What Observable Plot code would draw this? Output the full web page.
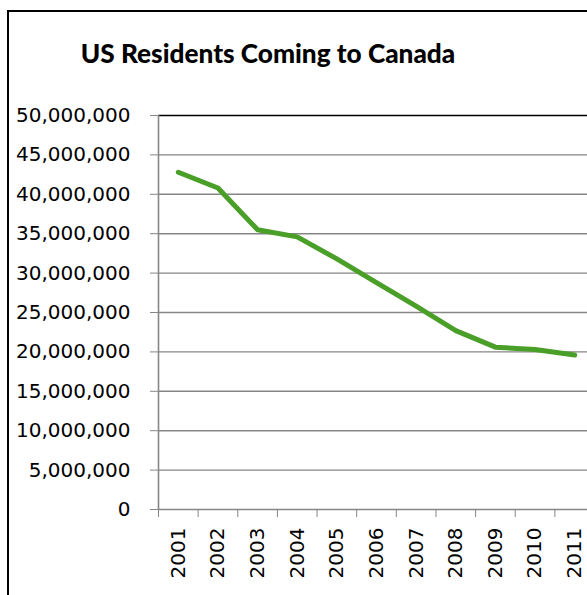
<!DOCTYPE html>
<html>
<head>
<meta charset="utf-8">
<script src="https://cdn.jsdelivr.net/npm/d3@7"></script>
<script src="https://cdn.jsdelivr.net/npm/@observablehq/plot@0.6"></script>
<style>
  html, body { margin: 0; padding: 0; background: #fff; }
  #wrap { position: relative; width: 587px; height: 595px; overflow: hidden; background: #fff; }
  #frame { position: absolute; left: 7px; top: 10px; width: 700px; height: 700px; border: 2px solid #000; box-sizing: border-box; }
  #title { position: absolute; left: 7px; top: 37px; width: 522px; text-align: center; font-family: Lato, "Open Sans", sans-serif; font-weight: 900; font-size: 26.2px; line-height: 32px; color: #000; }
  #chart { position: absolute; left: 0; top: 0; }
</style>
</head>
<body>
<div id="wrap">
  <div id="frame"></div>
  <div id="chart"></div>
  <div id="title">US Residents Coming to Canada</div>
</div>
<script>
const years = [2001, 2002, 2003, 2004, 2005, 2006, 2007, 2008, 2009, 2010, 2011];
const visitors = [42800000, 40800000, 35500000, 34600000, 31800000, 28800000, 25800000, 22700000, 20600000, 20300000, 19600000];
const yTicks = [0, 5000000, 10000000, 15000000, 20000000, 25000000, 30000000, 35000000, 40000000, 45000000, 50000000];
const yGrid = yTicks.filter(v => v > 0 && v < 50000000);
const catEdges = years.map(y => y - 0.5).concat([years[years.length - 1] + 0.5]);

const data = years.map((y, i) => ({year: y, value: visitors[i]}));
const gray = "#868686";

const chart = Plot.plot({
  width: 587,
  height: 595,
  marginLeft: 158,
  marginRight: 0,
  marginTop: 115,
  marginBottom: 86,
  style: {fontFamily: "'DejaVu Sans', sans-serif", fontSize: "20px", color: "#000", background: "transparent"},
  x: {type: "linear", domain: [years[0] - 0.5, years[years.length - 1] + 0.5], range: [158, 594]},
  y: {domain: [0, 50000000]},
  marks: [
    Plot.ruleY(yGrid, {stroke: gray, strokeWidth: 1.4}),
    Plot.ruleY([50000000], {stroke: "#000", strokeWidth: 1.6}),
    Plot.ruleX([years[0] - 0.5], {stroke: gray, strokeWidth: 1.6}),
    Plot.ruleY([0], {stroke: gray, strokeWidth: 1.6}),
    Plot.axisY({ticks: yTicks, tickSize: 8, tickPadding: 20, tickFormat: d3.format(","), stroke: gray, fill: "#000", label: null}),
    Plot.axisX({ticks: catEdges, tickSize: 8, stroke: gray, fill: "none", label: null}),
    Plot.axisX({ticks: years, tickSize: 0, tickPadding: 18, tickRotate: -90, tickFormat: d => String(d), fill: "#000", label: null}),
    Plot.line(data, {x: "year", y: "value", stroke: "#4a9f28", strokeWidth: 5, strokeLinejoin: "round", strokeLinecap: "round"})
  ]
});
document.getElementById("chart").appendChild(chart);
</script>
</body>
</html>
